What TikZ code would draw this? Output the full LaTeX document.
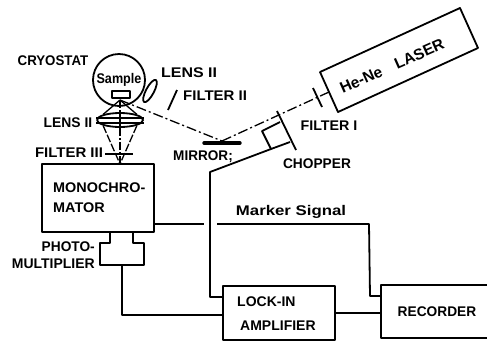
\documentclass[tikz,border=0pt]{standalone}
\usepackage{fontspec}
\setmainfont{Liberation Sans}
\usetikzlibrary{calc,shapes.geometric}
\tikzset{
  lbl/.style={inner sep=0pt,font=\fontsize{14}{14}\selectfont\bfseries},
  lasertext/.style={inner sep=0pt,font=\fontsize{15.5}{15.5}\selectfont\bfseries},
  wire/.style={draw,line width=1.8pt,line join=round},
  thin wire/.style={draw,line width=1.3pt},
  beam/.style={draw,line width=1.3pt,dash pattern=on 10pt off 3pt on 2pt off 3pt},
}
\begin{document}
\begin{tikzpicture}[x=1pt,y=-1pt]
\useasboundingbox (0,0) rectangle (487,341);
% instruments
\node[wire,minimum width=112pt,minimum height=68pt,inner sep=0pt] (mono) at (98,198) {};
\node[lbl,anchor=west,xscale=1.03] (monot) at (53,188) {MONOCHRO-};
\node[lbl,anchor=west,xscale=1.03] (monot2) at (53,208) {MATOR};
\node[wire,minimum width=112pt,minimum height=54pt,inner sep=0pt] (lock) at (279,313) {};
\node[lbl,anchor=west] (lockt) at (237,302) {LOCK-IN};
\node[lbl,anchor=west] (lockt2) at (240,326) {AMPLIFIER};
\node[wire,minimum width=107pt,minimum height=53pt,inner sep=0pt] (rec) at (434.5,311.5) {};
\node[lbl,xscale=.98] (rect) at (437,312) {RECORDER};
% cryostat
\node[wire,circle,minimum size=52pt,inner sep=0pt] (cry) at (119,80) {};
\node[lbl,xscale=.9] (samp) at (119,80) {Sample};
\node[wire,minimum width=18pt,minimum height=7pt,inner sep=0pt] (hold) at (121,94.5) {};
\coordinate (foc) at (120,100);
\node[wire,ellipse,minimum width=25pt,minimum height=8pt,inner sep=0pt,rotate=62] (lensB) at (150,91) {};
\node[wire,ellipse,minimum width=46pt,minimum height=14pt,inner sep=0pt] (lensA) at (120,120) {};
\coordinate (tip) at (120,164);
\draw[thin wire] (foc) -- (lensA.north west) (foc) -- (lensA.north east);
\draw[thin wire] (lensA.west |- 0,118) -- (lensA.east |- 0,118);
\draw[thin wire] (lensA.west |- 0,123) -- (lensA.east |- 0,123);
\draw[thin wire,dash pattern=on 8pt off 2pt] (lensA.south west) -- (tip);
\draw[thin wire,dash pattern=on 8pt off 2pt] (lensA.south east) -- (tip);
\draw[thin wire,dash pattern=on 8pt off 2pt on 2pt off 2pt] (foc) -- (tip);
\coordinate (f3a) at (105,154);
\coordinate (f3b) at (133,154);
\draw[wire] (f3a) -- (f3b);
\coordinate (f2a) at (168,110);
\coordinate (f2b) at (177,90);
\draw[wire] (f2a) -- (f2b);
% mirror
\coordinate (mirA) at (204,143);
\coordinate (mirB) at (240,143);
\coordinate (mirC) at (222,141);
\draw[draw,line width=3.4pt,line cap=round] (mirA) -- (mirB);
\draw[beam] (foc) -- (mirC);
% laser
\coordinate (l1) at (320,72);
\coordinate (l2) at (460,8);
\coordinate (l3) at (478,48);
\coordinate (l4) at (338,112);
\draw[wire] (l1) -- (l2) -- (l3) -- (l4) -- cycle;
\node[lasertext,rotate=24] (lasert) at (392,66) {He-Ne\hspace{15pt}LASER};
\coordinate (lasout) at (329,92);
\draw[beam] (mirC) -- (lasout);
% filter I
\coordinate (f1a) at (313,88);
\coordinate (f1b) at (322,107);
\draw[wire] (f1a) -- (f1b);
% chopper
\coordinate (ch1) at (277,111);
\coordinate (ch2) at (296,150);
\draw[wire] (ch1) -- (ch2);
\coordinate (b1) at (262,131);
\coordinate (b2) at (280,122);
\coordinate (b3) at (290,142);
\coordinate (b4) at (271,149);
\draw[wire] (b2) -- (b1) -- (b4) -- (b3);
% wires
\coordinate (w1) at (210,172);
\draw[wire] (b4) -- (w1) -- (210,297) -- (lock.west |- 0,297);
\draw[wire] (mono.east |- 0,224) -- (204,224);
\coordinate (m1) at (217,224);
\draw[wire] (m1) -- (369,224) -- (370,296) -- (rec.west |- 0,296);
\draw[wire] (lock.east |- 0,313) -- (rec.west |- 0,313);
% photomultiplier
\draw[wire] (110,232) -- (110,243) -- (100,243) -- (100,265) -- (144,265) -- (144,243) -- (133,243) -- (133,232);
\coordinate (pm) at (122,265);
\draw[wire] (pm) -- (122,315) -- (lock.west |- 0,315);
% labels
\node[lbl,xscale=.95] (t1) at (53,61) {CRYOSTAT};
\node[lbl,anchor=west,xscale=1.14] (t2) at (161,73) {LENS II};
\node[lbl,anchor=west,xscale=1.07] (t3) at (183,96) {FILTER II};
\node[lbl,xscale=.99] (t4) at (68,123) {LENS II};
\node[lbl,xscale=1.07] (t5) at (69,153) {FILTER III};
\node[lbl,xscale=.97] (t6) at (203,157) {MIRROR;};
\node[lbl,xscale=1.02] (t7) at (329,126) {FILTER I};
\node[lbl,xscale=.98] (t8) at (317,164) {CHOPPER};
\node[lbl,xscale=1.2] (t9) at (291,212) {Marker Signal};
\node[lbl,anchor=east,xscale=.98] (t10) at (95,247) {PHOTO-};
\node[lbl,anchor=east,xscale=1.0] (t11) at (95,264) {MULTIPLIER};
\end{tikzpicture}
\end{document}
